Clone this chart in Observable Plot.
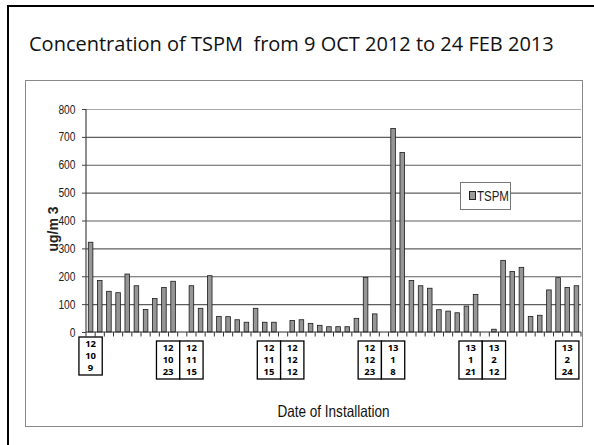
<!DOCTYPE html>
<html><head><meta charset="utf-8">
<script src="https://cdn.jsdelivr.net/npm/d3@7"></script>
<script src="https://cdn.jsdelivr.net/npm/@observablehq/plot@0.6"></script>
<style>
body{margin:0;background:#fff;}
#page{position:relative;width:594px;height:445px;overflow:hidden;background:#fff;}
#frame{position:absolute;left:7px;top:5px;width:700px;height:600px;border-left:2.5px solid #000;border-top:2px solid #000;}
#title{position:absolute;left:29px;top:34px;font-family:"Open Sans";font-size:20px;line-height:1;white-space:pre;color:#111;}
#box{position:absolute;left:25px;top:80px;width:556px;height:345px;border:1px solid #8a8a8a;}
#chart{position:absolute;left:26px;top:82px;}
#legend{position:absolute;left:460px;top:182px;width:49px;height:26px;border:1px solid #777;background:#fff;}
#legend .sw{position:absolute;left:8px;top:8px;width:5px;height:7px;background:#999;border:1px solid #222;}
#legend .lb{position:absolute;left:16px;top:6px;font-family:"Liberation Sans",Arial,sans-serif;font-size:14px;line-height:1;color:#222;transform:scaleX(0.82);transform-origin:0 0;}
</style></head>
<body>
<div id="page">
  <div id="frame"></div>
  <div id="title">Concentration of TSPM  from 9 OCT 2012 to 24 FEB 2013</div>
  <div id="box"></div>
  <div id="chart"></div>
  <div id="legend"><div class="sw"></div><div class="lb">TSPM</div></div>
</div>
<script>
// Sample number (category) 1..54
const categories = d3.range(1, 55).map(String);
// TSPM concentration (ug/m3); null = no bar
const tspm = [322,185,146,141,208,166,81,120,160,182,
              null,166,85,202,56,55,44,35,85,35,
              35,null,41,44,31,24,19,19,19,49,
              196,65,null,730,644,185,166,157,80,75,
              69,93,135,null,10,257,217,232,56,60,
              151,195,160,166];
const yTicks = [0,100,200,300,400,500,600,700,800];
// Date labels (yy / mm / dd) and the sample each box sits under
const dateLabels = ["12\n10\n9","12\n10\n23","12\n11\n15","12\n11\n15","12\n12\n12",
                    "12\n12\n23","13\n1\n8","13\n1\n21","13\n2\n12","13\n2\n24"];
const labelAnchors = ["1","12","12","23","23","34","34","45","45","53"];
const yTitle = "ug/m 3";
const xTitle = "Date of Installation";

const data = categories.map((c, i) => ({cat: c, value: tspm[i]}));
const sans = '"Liberation Sans",Arial,sans-serif';

function decor(index, scales, values, dimensions) {
  const x = scales.x, y = scales.y;
  const {width, height, marginLeft, marginRight, marginTop, marginBottom} = dimensions;
  const step = x.step ? x.step() : (width - marginLeft - marginRight) / categories.length;
  const bw = x.bandwidth ? x.bandwidth() : step / 2;
  const y0 = y(0);
  const g = d3.create("svg:g");
  // category tick marks at band boundaries
  const bounds = [x(categories[0]) + bw / 2 - step / 2, ...categories.map(c => x(c) + bw / 2 + step / 2)];
  g.selectAll("line.t").data(bounds).join("line")
    .attr("x1", d => d).attr("x2", d => d).attr("y1", y0).attr("y2", y0 + 4.5)
    .attr("stroke", "#333").attr("stroke-width", 1);
  // axis lines
  g.append("line").attr("x1", marginLeft).attr("x2", marginLeft).attr("y1", y(800)).attr("y2", y0)
    .attr("stroke", "#444").attr("stroke-width", 1.2);
  g.append("line").attr("x1", marginLeft).attr("x2", width - marginRight).attr("y1", y0).attr("y2", y0)
    .attr("stroke", "#333").attr("stroke-width", 1.2);
  // boxed date labels
  const boxW = 23.3, boxH = 38;
  const seen = {};
  labelAnchors.forEach((a, i) => {
    const groupSize = labelAnchors.filter(b => b === a).length;
    const k = (seen[a] = (seen[a] || 0) + 1) - 1;
    const cx = x(a) + bw / 2 - (groupSize - 1 - k) * boxW;
    const top = y0 + (i === 0 ? 5 : 9);
    g.append("rect").attr("x", cx - boxW / 2).attr("y", top).attr("width", boxW).attr("height", boxH)
      .attr("fill", "#fff").attr("stroke", "#000").attr("stroke-width", 1.3);
    dateLabels[i].split("\n").forEach((t, j) => {
      g.append("text").attr("x", cx).attr("y", top + 7 + j * 11.6).attr("dy", "0.35em")
        .attr("text-anchor", "middle").attr("font-family", "Open Sans").attr("font-weight", "bold")
        .attr("font-size", 9.5).attr("fill", "#000").text(t);
    });
  });
  // axis titles
  const midY = (y(0) + y(800)) / 2;
  g.append("text").attr("transform", `translate(${marginLeft - 28},${midY + 8.5}) rotate(-90)`)
    .attr("text-anchor", "middle").attr("font-family", sans).attr("font-weight", "bold")
    .attr("font-size", 14).attr("fill", "#222").text(yTitle);
  g.append("text").attr("class", "nw").attr("x", (marginLeft + width - marginRight) / 2).attr("y", y0 + 84.7)
    .attr("text-anchor", "middle").attr("font-family", sans).attr("font-size", 16.5).attr("fill", "#111").text(xTitle);
  return g.node();
}

const chart = Plot.plot({
  width: 556, height: 344,
  marginLeft: 60, marginRight: 1, marginTop: 27, marginBottom: 94,
  style: {background: "transparent", fontFamily: sans},
  x: {type: "band", domain: categories, paddingInner: 0.5, paddingOuter: 0.25, round: false, axis: null},
  y: {domain: [0, 800], axis: null},
  marks: [
    Plot.ruleY(yTicks.filter(d => d > 0 && d < 800), {stroke: "#5e5e5e", strokeWidth: 1.1}),
    Plot.ruleY([800], {stroke: "#a8a8a8", strokeWidth: 1.1}),
    Plot.barY(data, {x: "cat", y: "value", fill: "#969696", stroke: "#1c1c1c", strokeWidth: 0.8}),
    Plot.axisY({ticks: yTicks, tickSize: 4, tickPadding: 7, fontSize: 12.5, fontFamily: sans, stroke: "#444", color: "#222", label: null}),
    decor
  ]
});
document.getElementById("chart").appendChild(chart);
// condense Arial-metric text to Arial Narrow proportions
const narrowTexts = chart.querySelectorAll('[aria-label="y-axis tick label"] text, text.nw');
narrowTexts.forEach(t => {
  const L = t.getComputedTextLength();
  t.setAttribute("textLength", (L * 0.82).toFixed(2));
  t.setAttribute("lengthAdjust", "spacingAndGlyphs");
});
</script>
</body></html>
